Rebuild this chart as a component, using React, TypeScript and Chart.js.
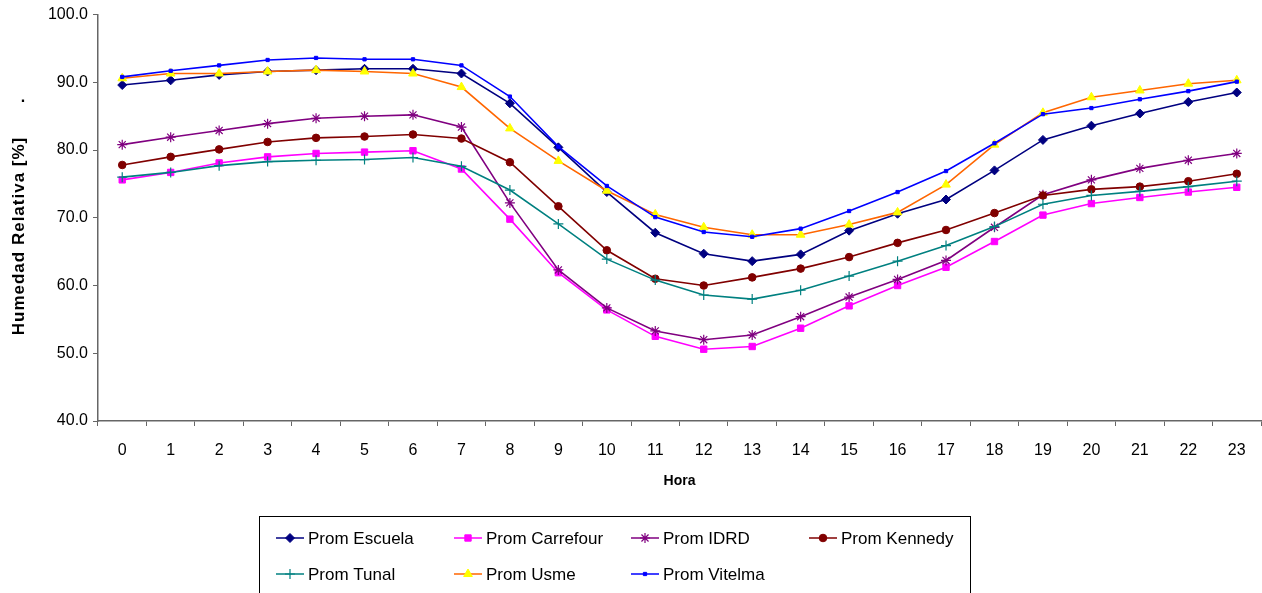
import React, { useEffect, useRef } from "react";
import { Chart, registerables } from "chart.js";
import { drawPoint } from "chart.js/helpers";

Chart.register(...registerables);

const hours = ["0", "1", "2", "3", "4", "5", "6", "7", "8", "9", "10", "11", "12", "13", "14", "15", "16", "17", "18", "19", "20", "21", "22", "23"];

const escuela = [89.6, 90.3, 91.1, 91.6, 91.8, 92.0, 92.0, 91.3, 86.9, 80.4, 73.8, 67.8, 64.7, 63.6, 64.6, 68.1, 70.6, 72.7, 77.0, 81.5, 83.6, 85.4, 87.1, 88.5];
const carrefour = [75.6, 76.7, 78.1, 79.0, 79.5, 79.7, 79.9, 77.2, 69.8, 61.9, 56.4, 52.5, 50.6, 51.0, 53.7, 57.0, 60.0, 62.7, 66.5, 70.4, 72.1, 73.0, 73.8, 74.5];
const idrd = [80.8, 81.9, 82.9, 83.9, 84.7, 85.0, 85.2, 83.4, 72.2, 62.3, 56.7, 53.3, 52.0, 52.7, 55.4, 58.3, 60.9, 63.7, 68.6, 73.4, 75.6, 77.3, 78.5, 79.5];
const kennedy = [77.8, 79.0, 80.1, 81.2, 81.8, 82.0, 82.3, 81.7, 78.2, 71.7, 65.2, 61.0, 60.0, 61.2, 62.5, 64.2, 66.3, 68.2, 70.7, 73.3, 74.2, 74.6, 75.4, 76.5];
const tunal = [76.0, 76.7, 77.7, 78.3, 78.5, 78.6, 78.9, 77.6, 74.1, 69.1, 63.9, 60.8, 58.6, 58.0, 59.3, 61.4, 63.6, 65.9, 68.7, 72.0, 73.3, 73.9, 74.6, 75.4];
const usme = [90.6, 91.3, 91.3, 91.6, 91.8, 91.6, 91.3, 89.3, 83.2, 78.4, 74.0, 70.5, 68.6, 67.5, 67.5, 69.0, 70.8, 74.9, 80.8, 85.5, 87.8, 88.8, 89.8, 90.3];
const vitelma = [90.8, 91.7, 92.5, 93.3, 93.6, 93.4, 93.4, 92.5, 87.9, 80.5, 74.7, 70.1, 67.9, 67.2, 68.4, 71.0, 73.8, 76.9, 81.0, 85.3, 86.2, 87.5, 88.7, 90.1];

const seriesNames = ["Prom Escuela", "Prom Carrefour", "Prom IDRD", "Prom Kennedy", "Prom Tunal", "Prom Usme", "Prom Vitelma"];
const seriesValues = [escuela, carrefour, idrd, kennedy, tunal, usme, vitelma];

const yTicksMin = 40;
const yTicksMax = 100;
const yStep = 10;
const yTitle = "Humedad Relativa [%]";
const xTitle = "Hora";

const styles = [
  { line: "#000080", fill: "#000080", stroke: "#000080", point: "rectRot", r: 4.5, bw: 1 },
  { line: "#FF00FF", fill: "#FF00FF", stroke: "#FF00FF", point: "rect", r: 4.5, bw: 1 },
  { line: "#800080", fill: "#800080", stroke: "#800080", point: "star", r: 5, bw: 1.2 },
  { line: "#800000", fill: "#800000", stroke: "#800000", point: "circle", r: 3.8, bw: 1 },
  { line: "#008080", fill: "#008080", stroke: "#008080", point: "cross", r: 5, bw: 1.2 },
  { line: "#FF6600", fill: "#FFFF00", stroke: "#FFFF00", point: "triangle", r: 5, bw: 1 },
  { line: "#0000FF", fill: "#0000FF", stroke: "#0000FF", point: "rect", r: 2.3, bw: 1 },
];

const FONT = "'Liberation Sans', Arial, sans-serif";

const decorPlugin = {
  id: "decor",
  afterDraw(chart: any) {
    const ctx = chart.ctx;
    const area = chart.chartArea;
    ctx.save();
    // y title
    ctx.fillStyle = "#000";
    ctx.font = `bold 17px ${FONT}`;
    try { (ctx as any).letterSpacing = "1px"; } catch (e) {}
    ctx.textAlign = "center";
    ctx.textBaseline = "middle";
    ctx.save();
    ctx.translate(19, 236);
    ctx.rotate(-Math.PI / 2);
    ctx.fillText(yTitle, 0, 0);
    ctx.restore();
    try { (ctx as any).letterSpacing = "0px"; } catch (e) {}
    ctx.font = `bold 16px ${FONT}`;
    ctx.fillText(".", 23, 98);
    // x title
    ctx.font = `bold 14px ${FONT}`;
    ctx.fillText(xTitle, (area.left + area.right) / 2, 481);
    // legend
    ctx.strokeStyle = "#000";
    ctx.lineWidth = 1;
    ctx.strokeRect(259.5, 516.5, 711, 90);
    const colX = [290, 468, 645, 823];
    const rowY = [538, 574];
    ctx.font = `17px ${FONT}`;
    ctx.textAlign = "left";
    seriesNames.forEach((name, i) => {
      const cx = colX[i % 4];
      const cy = rowY[Math.floor(i / 4)];
      const s = styles[i];
      ctx.strokeStyle = s.line;
      ctx.lineWidth = 1.5;
      ctx.beginPath();
      ctx.moveTo(cx - 14, cy);
      ctx.lineTo(cx + 14, cy);
      ctx.stroke();
      ctx.fillStyle = s.fill;
      ctx.strokeStyle = s.stroke;
      ctx.lineWidth = s.bw;
      drawPoint(ctx, { pointStyle: s.point, radius: s.r, rotation: 0, borderWidth: s.bw } as any, cx, cy);
      ctx.fillStyle = "#000";
      ctx.fillText(name, cx + 18, cy + 1);
    });
    ctx.restore();
  },
};

export default function App() {
  const ref = useRef<HTMLCanvasElement>(null);
  useEffect(() => {
    document.body.style.margin = "0";
    document.body.style.overflow = "hidden";
    const canvas = ref.current!;
    const chart = new Chart(canvas, {
      type: "line",
      data: {
        labels: hours,
        datasets: seriesValues.map((vals, i) => ({
          label: seriesNames[i],
          data: vals,
          borderColor: styles[i].line,
          backgroundColor: styles[i].fill,
          pointBackgroundColor: styles[i].fill,
          pointBorderColor: styles[i].stroke,
          pointStyle: styles[i].point as any,
          pointRadius: styles[i].r,
          pointBorderWidth: styles[i].bw,
          borderWidth: 1.6,
          tension: 0,
          fill: false,
          order: 6 - i,
        })),
      },
      options: {
        animation: false,
        responsive: false,
        devicePixelRatio: 1,
        layout: { autoPadding: false, padding: { top: 14, right: 1, left: 0, bottom: 0 } },
        plugins: { legend: { display: false }, tooltip: { enabled: false }, title: { display: false } },
        scales: {
          x: {
            type: "category",
            offset: true,
            grid: { display: true, offset: true, drawOnChartArea: false, tickLength: 5, color: "#666" },
            border: { display: true, color: "#666", width: 1.5 },
            ticks: { color: "#000", font: { family: FONT, size: 16 }, padding: 15, maxRotation: 0, autoSkip: false },
            afterFit: (scale: any) => { scale.height = 172; scale.paddingLeft = 0; scale.paddingRight = 0; },
          },
          y: {
            min: yTicksMin,
            max: yTicksMax,
            grid: { display: true, drawOnChartArea: false, tickLength: 5, color: "#666" },
            border: { display: true, color: "#666", width: 1.5 },
            ticks: { stepSize: yStep, color: "#000", font: { family: FONT, size: 16 }, padding: 5, callback: (v: any) => Number(v).toFixed(1) },
            afterFit: (scale: any) => { scale.width = 98; },
          },
        },
      },
      plugins: [decorPlugin],
    });
    return () => chart.destroy();
  }, []);
  return (
    <div style={{ position: "absolute", left: 0, top: 0, width: 1262, height: 593 }}>
      <canvas ref={ref} width={1262} height={593} style={{ display: "block", width: 1262, height: 593 }} />
    </div>
  );
}
